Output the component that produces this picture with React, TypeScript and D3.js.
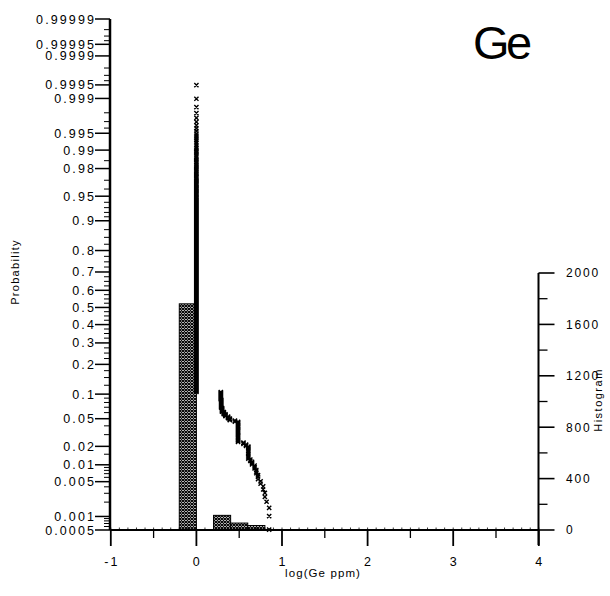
import React from 'react';
import * as d3 from 'd3';

// Ge sample values (log10 ppm) and how many samples share each value, largest first
const GE_LOG_VALUES = [0.85, 0.82, 0.8, 0.78, 0.75, 0.72, 0.7, 0.68, 0.65, 0.63, 0.607, 0.58, 0.55, 0.487, 0.45, 0.39, 0.37, 0.34, 0.32, 0.3, 0.29, 0.285, 0];
const GE_COUNTS = [3, 1, 2, 2, 2, 3, 3, 3, 3, 2, 15, 3, 3, 44, 4, 6, 6, 7, 8, 15, 35, 37, 1760];

// Histogram bin edges (bins are (lo, hi])
const BIN_EDGES = [-0.2, 0, 0.2, 0.4, 0.6, 0.8, 1.0];

// Axis ticks
const X_TICKS = [-1, 0, 1, 2, 3, 4];
const X_TICK_LABELS = ['-1', '0', '1', '2', '3', '4'];
const X_MINOR = [-0.5, 0.5, 1.5, 2.5, 3.5];
const PROB_TICKS = [0.0005, 0.001, 0.005, 0.01, 0.02, 0.05, 0.1, 0.2, 0.3, 0.4, 0.5, 0.6, 0.7, 0.8, 0.9, 0.95, 0.98, 0.99, 0.995, 0.999, 0.9995, 0.9999, 0.99995, 0.99999];
const PROB_TICK_LABELS = ['0.0005', '0.001', '0.005', '0.01', '0.02', '0.05', '0.1', '0.2', '0.3', '0.4', '0.5', '0.6', '0.7', '0.8', '0.9', '0.95', '0.98', '0.99', '0.995', '0.999', '0.9995', '0.9999', '0.99995', '0.99999'];
const PROB_MINOR = [0.0006, 0.0007, 0.0008, 0.0009, 0.002, 0.003, 0.004, 0.006, 0.007, 0.008, 0.009, 0.015, 0.03, 0.04, 0.06, 0.07, 0.08, 0.09, 0.125, 0.15, 0.175, 0.225, 0.25, 0.275, 0.325, 0.35, 0.375, 0.425, 0.45, 0.475, 0.525, 0.55, 0.575, 0.625, 0.65, 0.675, 0.725, 0.75, 0.775, 0.825, 0.85, 0.875, 0.91, 0.92, 0.93, 0.94, 0.96, 0.97, 0.985, 0.996, 0.997, 0.998, 0.9996, 0.9997, 0.9998, 0.99996, 0.99997, 0.99998];
const HIST_TICKS = [0, 400, 800, 1200, 1600, 2000];
const HIST_TICK_LABELS = ['0', '400', '800', '1200', '1600', '2000'];
const HIST_MINOR = [200, 600, 1000, 1400, 1800];

const FONT = '"Liberation Sans", Arial, Helvetica, sans-serif';

// Inverse of the standard normal CDF (Acklam's rational approximation)
function probit(p: number): number {
  const a = [-39.69683028665376, 220.9460984245205, -275.9285104469687, 138.357751867269, -30.66479806614716, 2.506628277459239];
  const b = [-54.47609879822406, 161.5858368580409, -155.6989798598866, 66.80131188771972, -13.28068155288572];
  const c = [-0.007784894002430293, -0.3223964580411365, -2.400758277161838, -2.549732539343734, 4.374664141464968, 2.938163982698783];
  const d = [0.007784695709041462, 0.3224671290700398, 2.445134137142996, 3.754408661907416];
  const pl = 0.02425;
  if (p < pl) {
    const q = Math.sqrt(-2 * Math.log(p));
    return (((((c[0] * q + c[1]) * q + c[2]) * q + c[3]) * q + c[4]) * q + c[5]) / ((((d[0] * q + d[1]) * q + d[2]) * q + d[3]) * q + 1);
  }
  if (p > 1 - pl) {
    const q = Math.sqrt(-2 * Math.log(1 - p));
    return -(((((c[0] * q + c[1]) * q + c[2]) * q + c[3]) * q + c[4]) * q + c[5]) / ((((d[0] * q + d[1]) * q + d[2]) * q + d[3]) * q + 1);
  }
  const q = p - 0.5;
  const r = q * q;
  return (((((a[0] * r + a[1]) * r + a[2]) * r + a[3]) * r + a[4]) * r + a[5]) * q / (((((b[0] * r + b[1]) * r + b[2]) * r + b[3]) * r + b[4]) * r + 1);
}

export default function App() {
  const W = 610;
  const H = 596;
  const left = 110;
  const right = 538.5;
  const top = 19;
  const bottom = 530;

  const x = d3.scaleLinear().domain([-1, 4]).range([left + 0.8, right + 0.3]);
  const yP = d3.scaleLinear().domain([probit(0.0005), probit(0.99999)]).range([bottom, top]);
  const yH = d3.scaleLinear().domain([0, 2000]).range([bottom, 273]);

  // expand to individual samples, largest first
  const samples: number[] = [];
  GE_LOG_VALUES.forEach((v, i) => {
    for (let k = 0; k < GE_COUNTS[i]; k++) samples.push(v);
  });
  const n = samples.length;

  // exceedance plotting positions rank/(n+1), drawn as small x marks
  const path = d3.path();
  const r = 2.1;
  samples.forEach((v, i) => {
    const p = (i + 1) / (n + 1);
    const px = x(v);
    const py = yP(probit(p));
    path.moveTo(px - r, py - r);
    path.lineTo(px + r, py + r);
    path.moveTo(px + r, py - r);
    path.lineTo(px - r, py + r);
  });

  const bins = d3.pairs(BIN_EDGES).map(([lo, hi]) => ({
    lo,
    hi,
    count: samples.filter((v) => v > lo + 1e-9 && v <= hi + 1e-9).length,
  }));

  const xSmall = d3.range(-10, 41).map((k) => k / 10);

  const tickText = { fontFamily: FONT, fontSize: 12.5, letterSpacing: 2.1, fill: '#000' } as const;

  return (
    <svg width={W} height={H} style={{ position: 'absolute', left: 0, top: 0, background: '#fff' }}>
      <defs>
        <pattern id="hatch" width={3} height={3} patternUnits="userSpaceOnUse">
          <rect width={3} height={3} fill="#fff" />
          <path d="M0,0 L3,3 M3,0 L0,3" stroke="#000" strokeWidth={1.15} />
        </pattern>
      </defs>
      <rect width={W} height={H} fill="#fff" />

      {/* histogram */}
      {bins.filter((b) => b.count > 0).map((b, i) => (
        <rect
          key={i}
          x={x(b.lo)}
          y={yH(b.count)}
          width={x(b.hi) - x(b.lo)}
          height={yH(0) - yH(b.count)}
          fill="url(#hatch)"
          stroke="#000"
          strokeWidth={1}
        />
      ))}

      {/* probability plot markers */}
      <path d={path.toString()} stroke="#000" strokeWidth={1.4} fill="none" />

      {/* left probability axis */}
      <line x1={left} x2={left} y1={top} y2={bottom} stroke="#000" strokeWidth={2.5} />
      {PROB_MINOR.map((p) => (
        <line key={p} x1={left - 6} x2={left} y1={yP(probit(p))} y2={yP(probit(p))} stroke="#000" strokeWidth={1} />
      ))}
      {PROB_TICKS.map((p, i) => (
        <g key={p}>
          <line x1={left - 15} x2={left} y1={yP(probit(p))} y2={yP(probit(p))} stroke="#000" strokeWidth={1.5} />
          <text x={left - 14} y={yP(probit(p))} dy="0.36em" textAnchor="end" {...tickText}>
            {PROB_TICK_LABELS[i]}
          </text>
        </g>
      ))}
      <text
        transform={`translate(19,272) rotate(-90)`}
        textAnchor="middle"
        fontFamily={FONT}
        fontSize={11}
        letterSpacing={1.3}
      >
        Probability
      </text>

      {/* bottom axis */}
      <line x1={left} x2={right} y1={bottom} y2={bottom} stroke="#000" strokeWidth={2} />
      {xSmall.map((v) => (
        <line key={v} x1={x(v)} x2={x(v)} y1={bottom - 2.5} y2={bottom} stroke="#000" strokeWidth={0.8} />
      ))}
      {X_MINOR.map((v) => (
        <line key={v} x1={x(v)} x2={x(v)} y1={bottom} y2={bottom + 8} stroke="#000" strokeWidth={1.3} />
      ))}
      {X_TICKS.map((v, i) => (
        <g key={v}>
          <line x1={x(v)} x2={x(v)} y1={bottom} y2={bottom + 16} stroke="#000" strokeWidth={1.8} />
          <text x={x(v) + 1} y={566} textAnchor="middle" {...tickText}>
            {X_TICK_LABELS[i]}
          </text>
        </g>
      ))}
      <text x={323} y={577} textAnchor="middle" fontFamily={FONT} fontSize={11.5} letterSpacing={1.1}>
        log(Ge ppm)
      </text>

      {/* right histogram axis */}
      <line x1={right} x2={right} y1={yH(2000)} y2={bottom + 15} stroke="#000" strokeWidth={2} />
      {HIST_MINOR.map((v) => (
        <line key={v} x1={right} x2={right + 9} y1={yH(v)} y2={yH(v)} stroke="#000" strokeWidth={1.3} />
      ))}
      {HIST_TICKS.map((v, i) => (
        <g key={v}>
          <line x1={right} x2={right + 16} y1={yH(v)} y2={yH(v)} stroke="#000" strokeWidth={1.6} />
          <text x={566} y={yH(v)} dy="0.36em" textAnchor="start" fontFamily={FONT} fontSize={12} letterSpacing={1.8}>
            {HIST_TICK_LABELS[i]}
          </text>
        </g>
      ))}
      <text
        transform={`translate(602,400) rotate(-90)`}
        textAnchor="middle"
        fontFamily={FONT}
        fontSize={11}
        letterSpacing={1.5}
      >
        Histogram
      </text>

      {/* element title */}
      <text x={473} y={59} fontFamily={FONT} fontSize={47} letterSpacing={-3.5}>
        Ge
      </text>
    </svg>
  );
}
